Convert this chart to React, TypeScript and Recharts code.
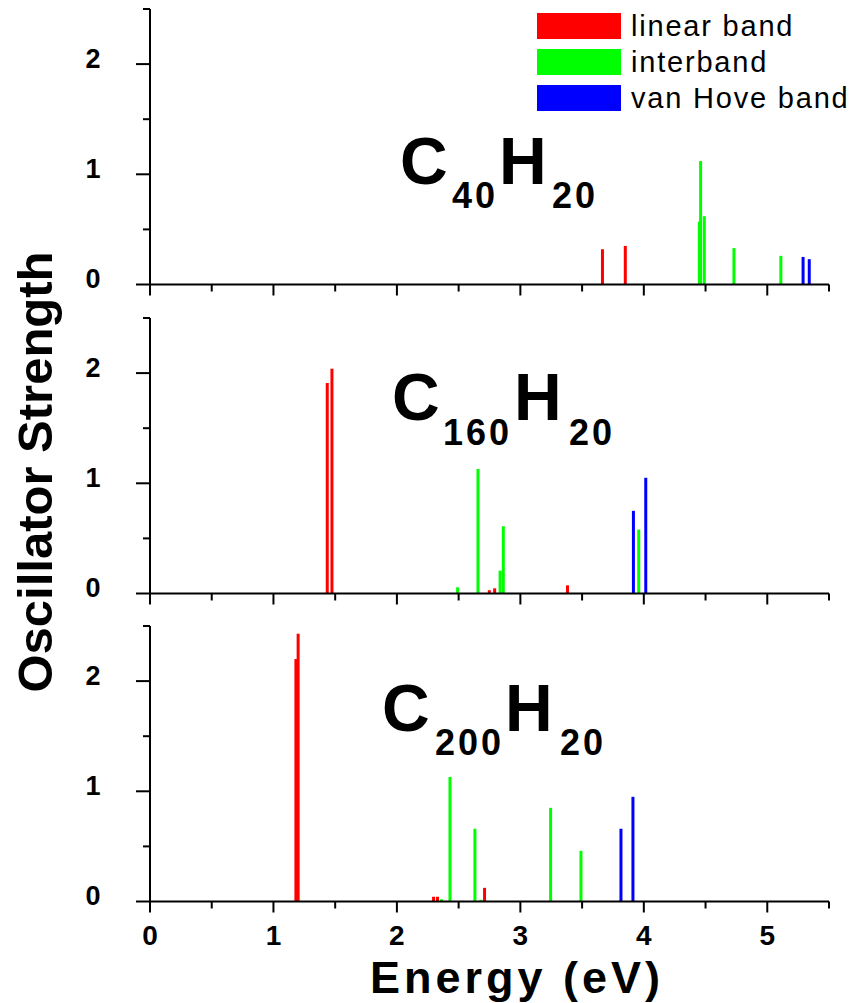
import { ComposedChart, Bar, XAxis, YAxis } from "recharts";

const FONT = "'Liberation Sans', Arial, sans-serif";

const energyTicks = [0, 0.5, 1, 1.5, 2, 2.5, 3, 3.5, 4, 4.5, 5, 5.5];
const strengthTicks = [0, 0.5, 1, 1.5, 2, 2.5];

const bands = [
  { key: "linear", name: "linear band", color: "#ff0000" },
  { key: "inter", name: "interband", color: "#00ff00" },
  { key: "vanHove", name: "van Hove band", color: "#0000ff" },
];

// C40H20 transitions: [energy eV, oscillator strength]
const c40Linear = [
  [3.665, 0.32],
  [3.85, 0.35],
];
const c40Inter = [
  [4.45, 0.57],
  [4.46, 1.12],
  [4.49, 0.62],
  [4.73, 0.33],
  [5.11, 0.26],
];
const c40VanHove = [
  [5.29, 0.25],
  [5.34, 0.23],
];

// C160H20
const c160Linear = [
  [1.434, 1.91],
  [1.472, 2.04],
  [2.747, 0.03],
  [2.79, 0.047],
  [3.38, 0.074],
];
const c160Inter = [
  [2.49, 0.056],
  [2.655, 1.13],
  [2.834, 0.207],
  [2.86, 0.61],
  [3.957, 0.58],
];
const c160VanHove = [
  [3.914, 0.75],
  [4.014, 1.05],
];

// C200H20
const c200Linear = [
  [1.181, 2.2],
  [1.199, 2.43],
  [2.296, 0.043],
  [2.328, 0.043],
  [2.709, 0.124],
];
const c200Inter = [
  [2.36, 0.02],
  [2.429, 1.13],
  [2.631, 0.66],
  [2.68, 0.015],
  [3.244, 0.85],
  [3.49, 0.46],
];
const c200VanHove = [
  [3.814, 0.66],
  [3.911, 0.95],
];

const colorOf: Record<string, string> = {};
bands.forEach((b) => (colorOf[b.key] = b.color));

const toRows = (linear: number[][], inter: number[][], vanHove: number[][]) =>
  [
    ...linear.map(([e, f]) => ({ e, f, band: "linear" })),
    ...inter.map(([e, f]) => ({ e, f, band: "inter" })),
    ...vanHove.map(([e, f]) => ({ e, f, band: "vanHove" })),
  ].sort((a, b) => a.e - b.e || a.f - b.f);

const PLOT_H = 275.5;

const Stick = (props: any) => {
  const { x, y, width, height, payload } = props;
  if (x == null || y == null || !isFinite(x)) return null;
  const cx = x + (width || 0) / 2;
  return (
    <rect
      x={cx - 1.5}
      y={y}
      width={3}
      height={Math.max(height || 0, 0)}
      fill={colorOf[payload.band]}
    />
  );
};

const EnergyTick = (props: any) => {
  const { x, y, payload, showLabel } = props;
  const major = Number.isInteger(payload.value);
  return (
    <g>
      <line x1={x} x2={x} y1={y} y2={y + (major ? 11 : 7)} stroke="#000" strokeWidth={2} />
      {showLabel && major && (
        <text
          x={x}
          y={y + 43}
          textAnchor="middle"
          fontFamily={FONT}
          fontWeight="bold"
          fontSize={28}
          fill="#000"
        >
          {payload.value}
        </text>
      )}
    </g>
  );
};

const StrengthTick = (props: any) => {
  const { x, y, payload } = props;
  const major = Number.isInteger(payload.value);
  return (
    <g>
      <line x1={x - (major ? 14 : 7)} x2={x} y1={y} y2={y} stroke="#000" strokeWidth={2} />
      {major && (
        <text
          x={x - 49.5}
          y={y + 3.5}
          textAnchor="end"
          fontFamily={FONT}
          fontWeight="bold"
          fontSize={27}
          fill="#000"
        >
          {payload.value}
        </text>
      )}
    </g>
  );
};

const LegendBox = () => (
  <div style={{ position: "absolute", left: 537, top: 13, fontFamily: FONT }}>
    {bands.map((b) => (
      <div key={b.key} style={{ display: "flex", height: 36 }}>
        <div style={{ width: 84, height: 26, background: b.color }} />
        <div
          style={{
            marginLeft: 10,
            fontSize: 29,
            lineHeight: "26px",
            letterSpacing: 1.8,
            color: "#000",
            whiteSpace: "nowrap",
          }}
        >
          {b.name}
        </div>
      </div>
    ))}
  </div>
);

interface PanelProps {
  rows: { e: number; f: number; band: string }[];
  plotTop: number;
  last?: boolean;
}

const Panel = ({ rows, plotTop, last = false }: PanelProps) => {
  const mt = 10;
  const xh = last ? 70 : 20;
  const axisStyle = { stroke: "#000", strokeWidth: 2 };
  return (
    <div style={{ position: "absolute", left: 0, top: plotTop - mt }}>
      <ComposedChart
        width={859}
        height={mt + PLOT_H + xh}
        data={rows}
        margin={{ top: mt, right: 30, bottom: 0, left: 90 }}
      >
        <XAxis
          dataKey="e"
          type="number"
          domain={[0, 5.5]}
          ticks={energyTicks}
          interval={0}
          height={xh}
          tickSize={0}
          tickMargin={0}
          tickLine={false}
          axisLine={axisStyle}
          tick={(p: any) => <EnergyTick {...p} showLabel={last} />}
        />
        <YAxis
          type="number"
          domain={[0, 2.5]}
          ticks={strengthTicks}
          interval={0}
          width={60}
          tickSize={0}
          tickMargin={0}
          tickLine={false}
          axisLine={axisStyle}
          tick={(p: any) => <StrengthTick {...p} />}
        />
        <Bar dataKey="f" isAnimationActive={false} shape={<Stick />} />
      </ComposedChart>
    </div>
  );
};

const Formula = ({ parts }: { parts: { t: string; x: number; y: number; sub?: boolean }[] }) => (
  <g fontFamily={FONT} fontWeight="bold" fill="#000">
    {parts.map((p, i) => (
      <text
        key={i}
        x={p.x}
        y={p.y}
        fontSize={p.sub ? 36 : 66}
        letterSpacing={p.sub ? 3 : 0}
      >
        {p.t}
      </text>
    ))}
  </g>
);

export default function App() {
  return (
    <div
      style={{
        position: "absolute",
        left: 0,
        top: 0,
        width: 859,
        height: 1003,
        background: "#fff",
        fontFamily: FONT,
      }}
    >
      <Panel rows={toRows(c40Linear, c40Inter, c40VanHove)} plotTop={8.8} />
      <Panel rows={toRows(c160Linear, c160Inter, c160VanHove)} plotTop={318} />
      <Panel rows={toRows(c200Linear, c200Inter, c200VanHove)} plotTop={626.2} last />
      <LegendBox />
      <svg
        width={859}
        height={1003}
        style={{ position: "absolute", left: 0, top: 0, pointerEvents: "none" }}
      >
        <Formula
          parts={[
            { t: "C", x: 400, y: 184 },
            { t: "40", x: 452, y: 208, sub: true },
            { t: "H", x: 499, y: 184 },
            { t: "20", x: 552, y: 208, sub: true },
          ]}
        />
        <Formula
          parts={[
            { t: "C", x: 392, y: 420 },
            { t: "160", x: 443, y: 445, sub: true },
            { t: "H", x: 514, y: 420 },
            { t: "20", x: 569, y: 445, sub: true },
          ]}
        />
        <Formula
          parts={[
            { t: "C", x: 382, y: 731 },
            { t: "200", x: 435, y: 755, sub: true },
            { t: "H", x: 505, y: 731 },
            { t: "20", x: 560, y: 755, sub: true },
          ]}
        />
        <text
          x={52}
          y={472}
          transform="rotate(-90 52 472)"
          textAnchor="middle"
          fontFamily={FONT}
          fontWeight="bold"
          fontSize={49}
          fill="#000"
        >
          Oscillator Strength
        </text>
        <text
          x={517}
          y={993}
          textAnchor="middle"
          fontFamily={FONT}
          fontWeight="bold"
          fontSize={45}
          letterSpacing={4}
          fill="#000"
        >
          Energy (eV)
        </text>
      </svg>
    </div>
  );
}
